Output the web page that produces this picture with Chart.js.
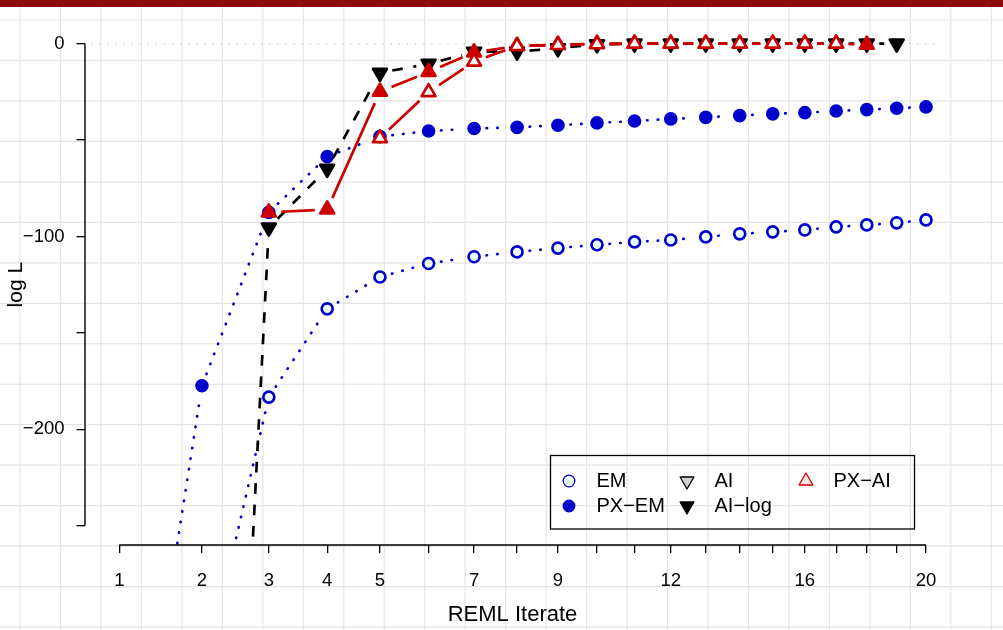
<!DOCTYPE html>
<html>
<head>
<meta charset="utf-8">
<script src="https://cdn.jsdelivr.net/npm/chart.js@4.4.0/dist/chart.umd.min.js"></script>
<style>
  html, body { margin: 0; padding: 0; background: #fff; }
  #wrap { width: 1003px; height: 630px; }
</style>
</head>
<body>
<div id="wrap"><canvas id="myChart" width="1003" height="630"></canvas></div>
<script>
// REML log likelihood by iterate, several algorithms

const iterates = [1, 2, 3, 4, 5, 6, 7, 8, 9, 10, 11, 12, 13, 14, 15, 16, 17, 18, 19, 20];
const xTickLabels = [1, 2, 3, 4, 5, 7, 9, 12, 16, 20];
const yTicks = [-250, -200, -150, -100, -50, 0];
const yTickLabels = [-200, -100, 0];

const emLogL = [-452, -333, -183.3, -137.5, -121, -114, -110.5, -108, -106, -104.3,
                -102.8, -101.8, -100.2, -98.6, -97.6, -96.6, -95, -94, -92.9, -91.4];
const pxemLogL = [-452, -177.4, -87.5, -58.6, -48.2, -45.3, -44.0, -43.4, -42.3, -41.1,
                  -40.1, -39.0, -38.2, -37.3, -36.4, -35.8, -34.9, -34.2, -33.5, -32.8];

const aiIter = [];
const aiLogL = [];   // AI points sit under the AI-log ones, none visible

const ailogIter = [2, 3, 4, 5, 6, 7, 8, 9, 10, 11, 12, 13, 14, 15, 16, 17, 18, 19];
const ailogLogL = [-772, -95.4, -64.9, -15.1, -10.5, -4.2, -4.1, -2.4, -0.3, 0,
                   0, 0, 0, 0, 0, 0, 0, 0];

// PX-AI started after 3 PX-EM rounds (filled) and after 5 (open)
const pxai3Iter = [3, 4, 5, 6, 7, 8, 9, 10, 11, 12, 13, 14, 15, 16, 17, 18];
const pxai3LogL = [-87.5, -86, -24.9, -14.7, -4.5, -1.2, -0.5, 0, 0, 0, 0, 0, 0, 0, 0, -0.5];
const pxaiIter = [5, 6, 7, 8, 9, 10, 11, 12, 13, 14, 15, 16, 17];
const pxaiLogL = [-49, -25.1, -9.3, -1.2, -0.7, -0.3, 0, 0, 0, 0, 0, 0, 0];

const FONT = '"Liberation Sans", Arial, sans-serif';
const BLUE = '#0000CD';
const RED = '#CD0000';
const LWD = 2.67;
const GAP = 12.5;
const CIRC = 5.5;
const TRI = 8;

const pts = (xs, ys) => xs.map((x, i) => ({ x: x, y: ys[i] }));
const minus = v => (v < 0 ? '\u2212' + Math.abs(v) : String(v));

// x axis is drawn on a power (x^0.6) scale
class PowerScale extends Chart.LinearScale {
  static id = 'power';
  static defaults = { power: 0.6 };
  _pw(v) { return Math.pow(v, this.options.power); }
  getPixelForValue(v) {
    const a = this._pw(this.min), b = this._pw(this.max);
    return this.getPixelForDecimal((this._pw(v) - a) / (b - a));
  }
  getValueForPixel(px) {
    const a = this._pw(this.min), b = this._pw(this.max);
    return Math.pow(a + this.getDecimalForPixel(px) * (b - a), 1 / this.options.power);
  }
}
Chart.register(PowerScale);

// page background: graph paper + top band
const paper = {
  id: 'paper',
  beforeDraw(chart) {
    const ctx = chart.ctx, w = chart.width, h = chart.height;
    ctx.save();
    ctx.fillStyle = '#fff';
    ctx.fillRect(0, 0, w, h);
    ctx.strokeStyle = '#e4e4e4';
    ctx.lineWidth = 1.2;
    ctx.beginPath();
    for (let x = 20; x < w; x += 40.47) { ctx.moveTo(x, 0); ctx.lineTo(x, h); }
    for (let y = 20; y < h; y += 40.47) { ctx.moveTo(0, y); ctx.lineTo(w, y); }
    ctx.stroke();
    ctx.fillStyle = '#8a0c0c';
    ctx.fillRect(0, 0, w, 7);
    ctx.restore();
  },
  beforeDatasetsDraw(chart) {
    const ctx = chart.ctx, a = chart.chartArea;
    const y0 = chart.scales.y.getPixelForValue(0);
    ctx.save();
    ctx.strokeStyle = '#c4c4c4';
    ctx.lineWidth = 1.2;
    ctx.setLineDash([1.2, 6.9]);
    ctx.beginPath();
    ctx.moveTo(a.left + 6, y0);
    ctx.lineTo(a.right, y0);
    ctx.stroke();
    ctx.restore();
    ctx.lineJoin = 'round';
  },
  afterDatasetsDraw(chart) {
    chart.ctx.lineJoin = 'miter';
  },
  afterDraw(chart) {
    // R style axis lines, only as long as the ticks
    const ctx = chart.ctx, a = chart.chartArea;
    const sx = chart.scales.x, sy = chart.scales.y;
    ctx.save();
    ctx.strokeStyle = '#000';
    ctx.lineWidth = 1.4;
    ctx.beginPath();
    ctx.moveTo(sx.getPixelForValue(iterates[0]), a.bottom);
    ctx.lineTo(sx.getPixelForValue(iterates[iterates.length - 1]), a.bottom);
    ctx.moveTo(a.left, sy.getPixelForValue(yTicks[0]));
    ctx.lineTo(a.left, sy.getPixelForValue(yTicks[yTicks.length - 1]));
    ctx.stroke();
    ctx.restore();
  }
};

// type="b" lines: segments stop short of each point
const gappedLines = {
  id: 'gappedLines',
  beforeDatasetDraw(chart, args) {
    const ds = chart.data.datasets[args.index];
    if (!ds.rLine) return;
    const p = args.meta.data;
    const a = chart.chartArea, ctx = chart.ctx;
    ctx.save();
    ctx.beginPath();
    ctx.rect(a.left, a.top, a.right - a.left, a.bottom - a.top);
    ctx.clip();
    ctx.strokeStyle = ds.borderColor;
    ctx.lineWidth = LWD;
    ctx.lineCap = ds.rLine.cap;
    for (let i = 1; i < p.length; i++) {
      const dx = p[i].x - p[i - 1].x, dy = p[i].y - p[i - 1].y;
      const d = Math.hypot(dx, dy);
      if (d <= 2 * GAP) continue;
      const f = GAP / d;
      ctx.setLineDash(ds.rLine.dash);
      ctx.beginPath();
      ctx.moveTo(p[i - 1].x + f * dx, p[i - 1].y + f * dy);
      ctx.lineTo(p[i].x - f * dx, p[i].y - f * dy);
      ctx.stroke();
    }
    ctx.restore();
  }
};

// boxed legend, three columns, bottom right of the plot
const legendItems = ['EM', 'PX\u2212EM', 'AI', 'AI\u2212log', 'PX\u2212AI'];
const boxLegend = {
  id: 'boxLegend',
  afterDraw(chart) {
    const ctx = chart.ctx;
    const box = { x: 550.5, y: 455.5, w: 364, h: 73.5 };
    const cols = [569, 687, 806];
    const rows = [481, 506];
    ctx.save();
    ctx.strokeStyle = '#000';
    ctx.lineWidth = 1.3;
    ctx.strokeRect(box.x, box.y, box.w, box.h);
    ctx.font = '20px ' + FONT;
    ctx.textBaseline = 'middle';
    ctx.lineJoin = 'round';
    legendItems.forEach((label, k) => {
      const ds = chart.data.datasets.find(d => d.label === label);
      const cx = cols[Math.floor(k / 2)], cy = rows[k % 2];
      ctx.fillStyle = ds.legendFill;
      ctx.strokeStyle = ds.legendStroke;
      ctx.lineWidth = 1.3;
      Chart.helpers.drawPoint(ctx, {
        pointStyle: ds.pointStyle,
        rotation: ds.pointRotation || 0,
        radius: ds.pointStyle === 'circle' ? 5.8 : 8,
        borderWidth: 1.3
      }, cx, cy);
      ctx.fillStyle = '#000';
      ctx.fillText(label, cx + 27.5, cy);
    });
    ctx.restore();
  }
};

const ctx = document.getElementById('myChart').getContext('2d');
const myChart = new Chart(ctx, {
  type: 'line',
  data: {
    datasets: [
      {
        label: 'EM', order: 5, data: pts(iterates, emLogL), showLine: false,
        rLine: { dash: [0.5, 10.2], cap: 'round' },
        borderColor: BLUE, pointBorderColor: BLUE, pointBackgroundColor: '#F0FFFF',
        pointStyle: 'circle', pointRadius: CIRC, pointBorderWidth: LWD,
        legendFill: '#F0FFFF', legendStroke: BLUE
      },
      {
        label: 'PX\u2212EM', order: 4, data: pts(iterates, pxemLogL), showLine: false,
        rLine: { dash: [0.5, 10.2], cap: 'round' },
        borderColor: BLUE, pointBorderColor: BLUE, pointBackgroundColor: BLUE,
        pointStyle: 'circle', pointRadius: CIRC, pointBorderWidth: LWD,
        legendFill: BLUE, legendStroke: BLUE
      },
      {
        label: 'AI', order: 3, data: pts(aiIter, aiLogL), showLine: false,
        rLine: { dash: [10.7, 10.7], cap: 'butt' },
        borderColor: '#000', pointBorderColor: '#000', pointBackgroundColor: '#D3D3D3',
        pointStyle: 'triangle', pointRotation: 180, pointRadius: TRI, pointBorderWidth: LWD,
        legendFill: '#D3D3D3', legendStroke: '#000'
      },
      {
        label: 'AI\u2212log', order: 2, data: pts(ailogIter, ailogLogL), showLine: false,
        rLine: { dash: [10.7, 10.7], cap: 'butt' },
        borderColor: '#000', pointBorderColor: '#000', pointBackgroundColor: '#000',
        pointStyle: 'triangle', pointRotation: 180, pointRadius: TRI, pointBorderWidth: LWD,
        legendFill: '#000', legendStroke: '#000'
      },
      {
        label: 'PX\u2212AI (3)', order: 1, data: pts(pxai3Iter, pxai3LogL), showLine: false,
        rLine: { dash: [], cap: 'butt' },
        borderColor: RED, pointBorderColor: RED, pointBackgroundColor: RED,
        pointStyle: 'triangle', pointRadius: TRI, pointBorderWidth: LWD
      },
      {
        label: 'PX\u2212AI', order: 0, data: pts(pxaiIter, pxaiLogL), showLine: false,
        rLine: { dash: [], cap: 'butt' },
        borderColor: RED, pointBorderColor: RED, pointBackgroundColor: '#fff',
        pointStyle: 'triangle', pointRadius: TRI, pointBorderWidth: LWD,
        legendFill: '#FFE4E1', legendStroke: RED
      }
    ]
  },
  options: {
    responsive: false,
    animation: false,
    events: [],
    layout: { padding: { top: 24.4, right: 63, left: 0, bottom: 0 } },
    plugins: { legend: { display: false }, tooltip: { enabled: false } },
    scales: {
      x: {
        type: 'power', power: 0.6, min: 0.6694, max: 20.485, bounds: 'data',
        afterBuildTicks: s => { s.ticks = iterates.map(v => ({ value: v })); },
        afterFit: s => { s.height = 85; },
        grid: { drawOnChartArea: false, drawTicks: true, tickLength: 8, color: '#000', lineWidth: 1.3 },
        border: { display: false },
        ticks: {
          autoSkip: false, maxRotation: 0, padding: 16.5, color: '#000',
          font: { family: FONT, size: 18.5 },
          callback: v => (xTickLabels.includes(v) ? String(v) : '')
        },
        title: {
          display: true, text: 'REML Iterate', color: '#000',
          font: { family: FONT, size: 22 }, padding: { top: 0, bottom: 2 }
        }
      },
      y: {
        type: 'linear', min: -260, max: 10, bounds: 'data',
        afterBuildTicks: s => { s.ticks = yTicks.map(v => ({ value: v })); },
        afterFit: s => { s.width = 85; },
        grid: { drawOnChartArea: false, drawTicks: true, tickLength: 8.5, color: '#000', lineWidth: 1.3 },
        border: { display: false },
        ticks: {
          padding: 12, color: '#000',
          font: { family: FONT, size: 18.5 },
          callback: v => (yTickLabels.includes(v) ? minus(v) : '')
        },
        title: {
          display: true, text: 'log L', color: '#000',
          font: { family: FONT, size: 21 }, padding: { top: 4, bottom: 0 }
        }
      }
    }
  },
  plugins: [paper, gappedLines, boxLegend]
});
</script>
</body>
</html>
